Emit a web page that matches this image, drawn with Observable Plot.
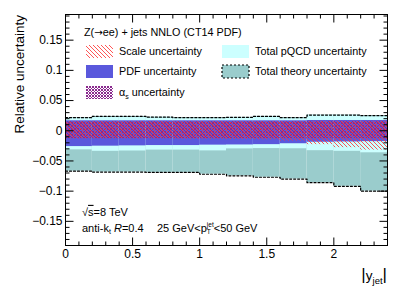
<!DOCTYPE html>
<html><head><meta charset="utf-8">
<script src="https://cdn.jsdelivr.net/npm/d3@7"></script>
<script src="https://cdn.jsdelivr.net/npm/@observablehq/plot@0.6"></script>
<style>html,body{margin:0;padding:0;background:#fff;}</style>
</head><body><div id="chart"></div>
<script>
// ---- data ----
const yjetEdges  = [0, 0.2, 0.4, 0.6, 0.8, 1.0, 1.2, 1.4, 1.6, 1.8, 2.0, 2.2, 2.4];
const theoryUp   = [0.0216, 0.0238, 0.0238, 0.0225, 0.0216, 0.0216, 0.0222, 0.0238, 0.0216, 0.0260, 0.0260, 0.0250];
const theoryDown = [-0.0670, -0.0685, -0.0685, -0.0690, -0.0690, -0.0720, -0.0746, -0.0770, -0.0800, -0.0860, -0.0920, -0.1000];
const pqcdUp     = [0.0206, 0.0228, 0.0228, 0.0215, 0.0206, 0.0206, 0.0212, 0.0228, 0.0206, 0.0250, 0.0250, 0.0240];
const pqcdDown   = [-0.0316, -0.0340, -0.0335, -0.0320, -0.0320, -0.0333, -0.0300, -0.0295, -0.0298, -0.0330, -0.0340, -0.0365];
const pdfUp      = [0.0165, 0.0165, 0.0165, 0.0165, 0.0165, 0.0165, 0.0165, 0.0165, 0.0165, 0.0170, 0.0170, 0.0170];
const pdfDown    = [-0.0262, -0.0255, -0.0250, -0.0245, -0.0245, -0.0238, -0.0235, -0.0230, -0.0215, -0.0190, -0.0185, -0.0180];
const alphasUp   = [0.0150, 0.0150, 0.0150, 0.0150, 0.0150, 0.0150, 0.0150, 0.0150, 0.0150, 0.0155, 0.0155, 0.0155];
const alphasDown = [-0.0130, -0.0130, -0.0130, -0.0130, -0.0130, -0.0130, -0.0130, -0.0130, -0.0130, -0.0130, -0.0130, -0.0130];
const scaleUp    = [0.0150, 0.0150, 0.0150, 0.0150, 0.0150, 0.0150, 0.0150, 0.0150, 0.0150, 0.0155, 0.0155, 0.0155];
const scaleDown  = [-0.0135, -0.0135, -0.0135, -0.0135, -0.0140, -0.0140, -0.0145, -0.0150, -0.0170, -0.0230, -0.0280, -0.0320];

const xTickValues = [0, 0.5, 1, 1.5, 2];
const yTickValues = [-0.15, -0.1, -0.05, 0, 0.05, 0.1, 0.15];
const legendLeft  = ["Scale uncertainty", "PDF uncertainty", "uncertainty"];
const legendRight = ["Total pQCD uncertainty", "Total theory uncertainty"];

// ---- styles ----
const C = {
  theory: "#9acccc", pqcd: "#ccffff", pdf: "#5a58dc",
  scale: "#ff3838", alphas: "#8a2a8e"
};
const FONT = "'Liberation Sans', Arial, Helvetica, sans-serif";

// build tables
const bins = theoryUp.map((_, i) => ({
  x1: yjetEdges[i], x2: yjetEdges[i + 1],
  tU: theoryUp[i], tD: theoryDown[i], qU: pqcdUp[i], qD: pqcdDown[i],
  pU: pdfUp[i], pD: pdfDown[i], aU: alphasUp[i], aD: alphasDown[i],
  sU: scaleUp[i], sD: scaleDown[i]
}));
const upperEdge = bins.flatMap(b => [{x: b.x1, y: b.tU}, {x: b.x2, y: b.tU}]);
const lowerEdge = bins.flatMap(b => [{x: b.x1, y: b.tD}, {x: b.x2, y: b.tD}]);

const fmt = d => d === 0 ? "0" : (d < 0 ? "\u2212" : "") + String(Math.abs(d));

function overlay(index, scales, values, dim) {
  const X = scales.x, Y = scales.y;
  const {width, height, marginLeft: ml, marginRight: mr, marginTop: mt, marginBottom: mb} = dim;
  const xl = ml, xr = width - mr, yt = mt, yb = height - mb;
  const g = d3.create("svg:g").attr("font-family", FONT).attr("text-anchor", "start").attr("fill", "black");

  // patterns
  const defs = g.append("defs");
  const ph = defs.append("pattern").attr("id", "hatchScale").attr("patternUnits", "userSpaceOnUse")
    .attr("width", 4).attr("height", 4);
  ph.append("path").attr("d", "M-1,-1L5,5M-1,3L1,5M3,-1L5,1").attr("stroke", C.scale).attr("stroke-width", 0.85);
  const pa = defs.append("pattern").attr("id", "hatchAlphas").attr("patternUnits", "userSpaceOnUse")
    .attr("width", 3).attr("height", 3);
  pa.append("path").attr("d", "M0,0L3,3M3,0L0,3").attr("stroke", C.alphas).attr("stroke-width", 1);

  // ticks (inside frame, ROOT style)
  let p = "";
  const yMinor = d3.range(-19, 20).filter(k => k % 5 !== 0).map(k => k / 100);
  const xMinor = d3.range(1, 24).filter(k => k % 5 !== 0).map(k => k / 10);
  for (const v of yTickValues) { const py = Y(v); p += `M${xl},${py}h8M${xr},${py}h-8`; }
  for (const v of yMinor) { const py = Y(v); p += `M${xl},${py}h4M${xr},${py}h-4`; }
  for (const v of xTickValues) { const px = X(v); p += `M${px},${yb}v-8M${px},${yt}v8`; }
  for (const v of xMinor) { const px = X(v); p += `M${px},${yb}v-4M${px},${yt}v4`; }
  g.append("path").attr("d", p).attr("stroke", "black").attr("stroke-width", 1).attr("fill", "none")
    .attr("transform", "translate(0.5,0.5)");

  // legend
  const fs = 10.8;
  const hd = g.append("text").attr("x", 84).attr("y", 32.5).attr("dy", "0.35em").attr("font-size", fs);
  hd.append("tspan").text("Z(");
  hd.append("tspan").attr("font-family", "'DejaVu Sans', sans-serif").attr("font-size", fs * 0.95).text("\u2192");
  hd.append("tspan").text("ee) + jets NNLO (CT14 PDF)");
  const rows = [51.5, 71.5, 92.5];
  const bw = 27, bh = 13;
  const lx = 86, rx = 222;
  const boxes = [
    {x: lx, y: rows[0], fill: "url(#hatchScale)"},
    {x: lx, y: rows[1], fill: C.pdf},
    {x: lx, y: rows[2], fill: "url(#hatchAlphas)"},
    {x: rx, y: rows[0], fill: C.pqcd},
    {x: rx, y: rows[1], fill: C.theory, dash: true}
  ];
  for (const b of boxes) {
    const r = g.append("rect").attr("x", b.x).attr("y", b.y - bh / 2).attr("width", bw).attr("height", bh)
      .attr("fill", b.fill);
    if (b.dash) r.attr("stroke", "black").attr("stroke-width", 1.2).attr("stroke-dasharray", "2,2");
  }
  legendLeft.forEach((t, i) => {
    const tx = g.append("text").attr("x", lx + 33).attr("y", rows[i]).attr("dy", "0.35em").attr("font-size", fs);
    if (i === 2) {
      tx.append("tspan").text("\u03b1");
      tx.append("tspan").attr("font-size", fs * 0.65).attr("dy", 3).text("s");
      tx.append("tspan").attr("dy", -3).text(" " + t);
    } else tx.text(t);
  });
  legendRight.forEach((t, i) => {
    g.append("text").attr("x", rx + 33).attr("y", rows[i]).attr("dy", "0.35em").attr("font-size", fs).text(t);
  });

  // bottom-left annotation
  const t1 = g.append("text").attr("x", 82).attr("y", 212).attr("dy", "0.35em").attr("font-size", 11);
  t1.append("tspan").text("\u221a");
  t1.append("tspan").attr("text-decoration", "overline").text("s");
  t1.append("tspan").text("=8 TeV");
  const t2 = g.append("text").attr("x", 82).attr("y", 228).attr("dy", "0.35em").attr("font-size", 11);
  t2.append("tspan").text("anti-k");
  t2.append("tspan").attr("font-size", 7).attr("dy", 2.5).text("t");
  t2.append("tspan").attr("dy", -2.5).text(" ");
  t2.append("tspan").attr("font-style", "italic").text("R");
  t2.append("tspan").text("=0.4");
  const t3 = g.append("text").attr("x", 157).attr("y", 228).attr("dy", "0.35em").attr("font-size", 11);
  t3.append("tspan").text("25 GeV<p");
  t3.append("tspan").attr("font-size", 6.5).attr("dy", 2.5).text("T");
  t3.append("tspan").attr("font-size", 6.5).attr("dx", -4).attr("dy", -7.5).text("jet");
  t3.append("tspan").attr("dy", 5).text("<50 GeV");

  // axis titles
  g.append("text").attr("transform", `translate(24,${yt + 1}) rotate(-90)`).attr("text-anchor", "end")
    .attr("font-size", 13.5).text("Relative uncertainty");
  const xt = g.append("text").attr("x", xr).attr("y", 280).attr("text-anchor", "end").attr("font-size", 13.5);
  xt.append("tspan").attr("font-size", 17).text("|");
  xt.append("tspan").text("y");
  xt.append("tspan").attr("font-size", 9.5).attr("dy", 4).text("jet");
  xt.append("tspan").attr("font-size", 17).attr("dy", -4).text("|");
  return g.node();
}

const chart = Plot.plot({
  width: 407, height: 292,
  marginLeft: 65, marginRight: 20, marginTop: 14, marginBottom: 47,
  style: {fontFamily: FONT, fontSize: "12px", background: "white", color: "black"},
  x: {domain: [0, 2.4]},
  y: {domain: [-0.19, 0.1925]},
  marks: [
    Plot.rect(bins, {x1: "x1", x2: "x2", y1: "tD", y2: "tU", fill: C.theory}),
    Plot.rect(bins, {x1: "x1", x2: "x2", y1: "qD", y2: "qU", fill: C.pqcd}),
    Plot.rect(bins, {x1: "x1", x2: "x2", y1: "pD", y2: "pU", fill: C.pdf}),
    Plot.rect(bins, {x1: "x1", x2: "x2", y1: "aD", y2: "aU", fill: "url(#hatchAlphas)"}),
    Plot.rect(bins, {x1: "x1", x2: "x2", y1: "sD", y2: "sU", fill: "url(#hatchScale)"}),
    Plot.line(upperEdge, {x: "x", y: "y", stroke: "black", strokeWidth: 1.2, strokeDasharray: "2,2"}),
    Plot.line(lowerEdge, {x: "x", y: "y", stroke: "black", strokeWidth: 1.2, strokeDasharray: "2,2"}),
    Plot.axisX({ticks: xTickValues, tickSize: 0, tickPadding: 4, label: null, fontSize: 12,
      tickFormat: d => String(d)}),
    Plot.axisY({ticks: yTickValues, tickSize: 0, tickPadding: 3, label: null, fontSize: 12,
      tickFormat: fmt}),
    Plot.frame({stroke: "black", strokeWidth: 1}),
    overlay
  ]
});
document.getElementById("chart").appendChild(chart);
</script>
</body></html>
